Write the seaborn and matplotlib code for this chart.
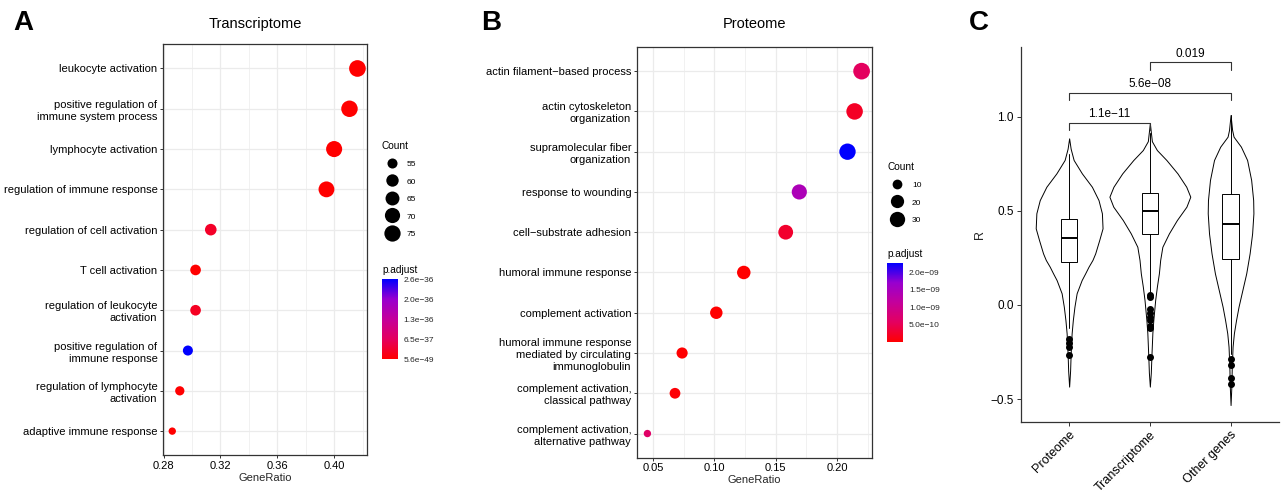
import numpy as np
import pandas as pd
import matplotlib
matplotlib.use("Agg")
import matplotlib.pyplot as plt
import seaborn as sns
from matplotlib.colors import LinearSegmentedColormap, Normalize
from matplotlib.cm import ScalarMappable
from matplotlib.lines import Line2D
from matplotlib.ticker import MultipleLocator

# ---- panel A: transcriptome GO terms ----
terms_tx = ['leukocyte activation',
            'positive regulation of\nimmune system process',
            'lymphocyte activation',
            'regulation of immune response',
            'regulation of cell activation',
            'T cell activation',
            'regulation of leukocyte\nactivation',
            'positive regulation of\nimmune response',
            'regulation of lymphocyte\nactivation',
            'adaptive immune response']
ratio_tx = [0.4164, 0.4108, 0.4000, 0.3946, 0.3132, 0.3025, 0.3025, 0.2971, 0.2914, 0.2861]
count_tx = [77, 76, 74, 73, 58, 56, 56, 55, 54, 53]
padj_tx = [1.0e-48, 5.6e-49, 2.1e-46, 1.2e-45, 2.8e-37, 3.0e-40, 2.4e-37, 2.6e-36, 1.1e-38, 4.0e-39]
count_breaks_tx = [55, 60, 65, 70, 75]
padj_ticks_tx = [5.6e-49, 6.5e-37, 1.3e-36, 1.95e-36, 2.6e-36]
padj_labels_tx = ['5.6e\u221249', '6.5e\u221237', '1.3e\u221236', '2.0e\u221236', '2.6e\u221236']

# ---- panel B: proteome GO terms ----
terms_pr = ['actin filament\u2212based process',
            'actin cytoskeleton\norganization',
            'supramolecular fiber\norganization',
            'response to wounding',
            'cell\u2212substrate adhesion',
            'humoral immune response',
            'complement activation',
            'humoral immune response\nmediated by circulating\nimmunoglobulin',
            'complement activation,\nclassical pathway',
            'complement activation,\nalternative pathway']
ratio_pr = [0.2201, 0.2144, 0.2086, 0.1693, 0.1582, 0.1240, 0.1016, 0.0737, 0.0679, 0.0454]
count_pr = [38, 37, 36, 29, 27, 21, 17, 13, 12, 8]
padj_pr = [5.7e-10, 2.3e-10, 2.28e-9, 1.45e-9, 2.7e-10, 1.0e-11, 3.0e-12, 2.0e-11, 4.0e-11, 6.4e-10]
count_breaks_pr = [10, 20, 30]
padj_ticks_pr = [5.0e-10, 1.0e-9, 1.5e-9, 2.0e-9]
padj_labels_pr = ['5.0e\u221210', '1.0e\u221209', '1.5e\u221209', '2.0e\u221209']

# ---- panel C: correlation distributions ----
groups = ['Proteome', 'Transcriptome', 'Other genes']
vio_r_prot = [0.885, 0.83, 0.77, 0.699, 0.628, 0.557, 0.487, 0.407, 0.345, 0.274, 0.239,
              0.203, 0.168, 0.132, 0.097, 0.062, -0.009, -0.08, -0.151, -0.257, -0.35, -0.434]
vio_w_prot = [0, 0.019, 0.056, 0.158, 0.282, 0.364, 0.406, 0.414, 0.373, 0.323, 0.289,
              0.240, 0.199, 0.155, 0.124, 0.093, 0.066, 0.046, 0.031, 0.019, 0.012, 0]
vio_r_tran = [0.965, 0.87, 0.823, 0.77, 0.699, 0.628, 0.575, 0.522, 0.451, 0.38, 0.309,
              0.239, 0.168, 0.097, 0.026, -0.08, -0.15, -0.275, -0.36, -0.434]
vio_w_tran = [0, 0.025, 0.087, 0.205, 0.342, 0.451, 0.501, 0.453, 0.335, 0.236, 0.155,
              0.128, 0.112, 0.087, 0.066, 0.043, 0.031, 0.019, 0.012, 0]
vio_r_other = [1.009, 0.93, 0.894, 0.841, 0.77, 0.664, 0.557, 0.487, 0.38, 0.274, 0.168,
               0.062, -0.009, -0.08, -0.151, -0.222, -0.328, -0.43, -0.532]
vio_w_other = [0, 0.019, 0.037, 0.128, 0.205, 0.255, 0.280, 0.283, 0.267, 0.236, 0.194,
               0.137, 0.099, 0.068, 0.041, 0.025, 0.015, 0.010, 0]
box_q1 = [0.226, 0.377, 0.242]
box_med = [0.354, 0.501, 0.430]
box_q3 = [0.455, 0.593, 0.588]
box_lo = [-0.12, 0.07, -0.26]
box_hi = [0.80, 0.915, 1.009]
box_out = [[-0.183, -0.204, -0.222, -0.268],
           [0.053, 0.044, -0.023, -0.045, -0.063, -0.080, -0.112, -0.124, -0.275],
           [-0.289, -0.319, -0.390, -0.422]]
pairs = [(0, 1), (0, 2), (1, 2)]
pair_y = [0.968, 1.128, 1.289]
pair_labels = ['1.1e\u221211', '5.6e\u221208', '0.019']

sns.set_theme(style="white")
plt.rcParams['font.family'] = ['Liberation Sans', 'DejaVu Sans']
plt.rcParams['text.color'] = 'black'

W, H = 1282, 494
fig = plt.figure(figsize=(W / 100, H / 100), dpi=100)

cmap = LinearSegmentedColormap.from_list(
    'padj', ['#FF0000', '#E4005F', '#C4009B', '#9800CF', '#0000FF'])


def dot_diam(c, lo, hi):
    # ggplot-like area scale, diameter in points
    return 5.3 + np.sqrt((c - lo) / (hi - lo)) * 6.7


def dot_panel(rect, terms, ratio, count, padj, xstep, breaks, cb_ticks, cb_labels,
              leg_xy, cbar_rect, padj_xy):
    ax = fig.add_axes(rect)
    df = pd.DataFrame({'Description': terms, 'GeneRatio': ratio,
                       'Count': count, 'p.adjust': padj})
    lo, hi = min(count), max(count)
    sizes = {c: dot_diam(c, lo, hi) ** 2 for c in set(count)}
    norm = Normalize(vmin=min(padj), vmax=max(padj))
    sns.scatterplot(data=df, x='GeneRatio', y='Description', size='Count', sizes=sizes,
                    hue='p.adjust', hue_norm=norm, palette=cmap, linewidth=0,
                    legend=False, ax=ax, zorder=3)
    ax.set_yticks(range(len(terms)))
    ax.set_yticklabels(terms, fontsize=8, linespacing=1.25)
    ax.set_ylim(len(terms) - 0.4, -0.6)
    ax.xaxis.set_major_locator(MultipleLocator(xstep))
    ax.xaxis.set_minor_locator(MultipleLocator(xstep / 2))
    ax.grid(True, which='major', color='#EBEBEB', lw=0.9)
    ax.grid(True, which='minor', axis='x', color='#EBEBEB', lw=0.5)
    ax.set_axisbelow(True)
    for s in ax.spines.values():
        s.set_color('#333333')
        s.set_linewidth(0.9)
    ax.tick_params(which='major', length=2.5, width=0.7, color='#333333', pad=1.5,
                   labelsize=8, labelcolor='black', bottom=True, left=True)
    ax.tick_params(which='minor', length=0)
    ax.set_xlabel('GeneRatio', fontsize=8, labelpad=1.5)
    ax.set_ylabel('')

    handles = [Line2D([], [], ls='none', marker='o', markersize=dot_diam(b, lo, hi),
                      markerfacecolor='black', markeredgecolor='none') for b in breaks]
    fig.legend(handles, [str(b) for b in breaks], title='Count', loc='upper left',
               bbox_to_anchor=(leg_xy[0] / W, 1 - leg_xy[1] / H), frameon=False,
               borderpad=0, borderaxespad=0, handlelength=2.4, handletextpad=0.6,
               labelspacing=1.0, handleheight=1.2, fontsize=6, title_fontsize=7.3,
               alignment='left')

    cax = fig.add_axes([cbar_rect[0] / W, 1 - (cbar_rect[1] + cbar_rect[3]) / H,
                        cbar_rect[2] / W, cbar_rect[3] / H])
    cb = fig.colorbar(ScalarMappable(norm=norm, cmap=cmap), cax=cax, ticks=cb_ticks)
    cb.outline.set_visible(False)
    cax.set_yticklabels(cb_labels)
    cax.yaxis.set_ticks_position('both')
    cax.tick_params(direction='in', color='white', length=3, width=0.8, labelsize=6,
                    pad=4, labelleft=False, labelright=True)
    fig.text(padj_xy[0] / W, 1 - padj_xy[1] / H, 'p.adjust', fontsize=7.3,
             ha='left', va='center')
    return ax


dot_panel([163 / W, 1 - 455.3 / H, 203.7 / W, 411 / H], terms_tx, ratio_tx, count_tx,
          padj_tx, 0.04, count_breaks_tx, padj_ticks_tx, padj_labels_tx,
          (382, 141), (381.7, 279, 16.3, 80), (382, 270))
dot_panel([636.7 / W, 1 - 457.7 / H, 235.6 / W, 410.7 / H], terms_pr, ratio_pr, count_pr,
          padj_pr, 0.05, count_breaks_pr, padj_ticks_pr, padj_labels_pr,
          (887, 162), (887, 262.7, 16.3, 79.6), (887, 254))

fig.text(255 / W, 1 - 24 / H, 'Transcriptome', fontsize=10.5, ha='center', va='center')
fig.text(754 / W, 1 - 24.5 / H, 'Proteome', fontsize=10.5, ha='center', va='center')

# ---- panel C ----
axc = fig.add_axes([1020.7 / W, 1 - 422 / H, 258.3 / W, 375.3 / H])
profiles = [(vio_r_prot, vio_w_prot), (vio_r_tran, vio_w_tran), (vio_r_other, vio_w_other)]
for i, (r, w) in enumerate(profiles):
    r = np.array(r)
    w = np.array(w)
    axc.fill_betweenx(r, i - w, i + w, facecolor='white', edgecolor='black', lw=0.7,
                      zorder=2)
stats = [dict(med=box_med[i], q1=box_q1[i], q3=box_q3[i], whislo=box_lo[i],
              whishi=box_hi[i], fliers=box_out[i]) for i in range(3)]
axc.bxp(stats, positions=range(3), widths=0.2, patch_artist=True, showcaps=False,
        boxprops=dict(facecolor='white', edgecolor='black', lw=0.7),
        medianprops=dict(color='black', lw=1.4),
        whiskerprops=dict(color='black', lw=0.7),
        flierprops=dict(marker='o', markerfacecolor='black', markeredgecolor='black',
                        markersize=4),
        zorder=3)
for (a, b), y, lab in zip(pairs, pair_y, pair_labels):
    axc.plot([a, a, b, b], [y - 0.039, y, y, y - 0.039], color='#333333', lw=0.8)
    axc.text((a + b) / 2, y + 0.012, lab, fontsize=8.5, ha='center', va='bottom')
axc.set_xlim(-0.6, 2.6)
axc.set_ylim(-0.622, 1.372)
axc.set_yticks([-0.5, 0.0, 0.5, 1.0])
axc.set_xticks(range(3))
axc.set_xticklabels(groups, rotation=45, ha='right', rotation_mode='anchor', fontsize=9)
axc.tick_params(axis='y', labelsize=8.5)
axc.tick_params(length=3, width=0.7, color='#333333', pad=2, labelcolor='black',
                bottom=True, left=True)
for side in ['top', 'right']:
    axc.spines[side].set_visible(False)
for side in ['left', 'bottom']:
    axc.spines[side].set_color('#333333')
    axc.spines[side].set_linewidth(0.9)
axc.set_ylabel('R', fontsize=9, labelpad=3)
axc.set_xlabel('')

for lab, x, y in [('A', 23, 30), ('B', 491, 29.5), ('C', 979, 30)]:
    fig.text(x / W, 1 - y / H, lab, fontsize=20, fontweight='bold', ha='center',
             va='baseline')

fig.savefig('out.png', dpi=100)
